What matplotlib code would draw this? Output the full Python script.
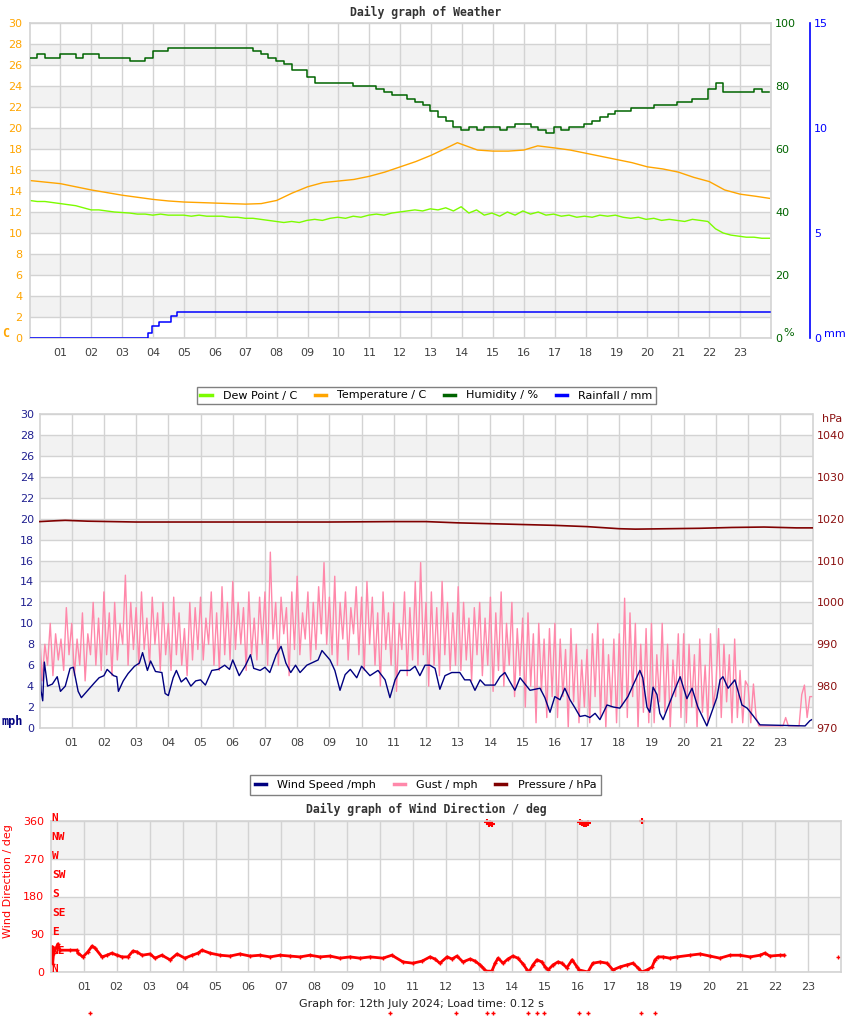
import numpy as np
import matplotlib.pyplot as plt
from matplotlib.lines import Line2D
from matplotlib.transforms import blended_transform_factory

# ---------------- data ----------------
hour_labels = ['%02d' % h for h in range(1, 24)]

# weather chart
temp_hours = [0, 0.5, 1, 1.5, 2, 2.5, 3, 3.5, 4, 4.5, 5, 5.5, 6, 6.5, 7, 7.5, 8, 8.5,
              9, 9.5, 10, 10.5, 11, 11.5, 12, 12.5, 13, 13.5, 13.85, 14.5, 15, 15.5,
              16, 16.45, 17, 17.5, 18, 18.5, 19, 19.5, 20, 20.5, 21, 21.5, 22, 22.5,
              23, 23.5, 23.95]
temp_c = [15.0, 14.85, 14.7, 14.4, 14.1, 13.85, 13.6, 13.4, 13.2, 13.05, 12.95, 12.9,
          12.85, 12.8, 12.75, 12.8, 13.1, 13.8, 14.4, 14.8, 14.95, 15.1, 15.4, 15.8,
          16.3, 16.8, 17.4, 18.1, 18.6, 17.9, 17.8, 17.8, 17.9, 18.3, 18.1, 17.9, 17.6,
          17.3, 17.0, 16.7, 16.3, 16.1, 15.8, 15.3, 14.9, 14.1, 13.7, 13.5, 13.3]

dew_c = [13.1, 13.0, 13.0, 12.9, 12.8, 12.7, 12.6, 12.4, 12.2, 12.2, 12.1, 12.0,
         11.95, 11.9, 11.8, 11.8, 11.7, 11.8, 11.7, 11.7, 11.7, 11.6, 11.7, 11.6,
         11.6, 11.6, 11.5, 11.5, 11.4, 11.4, 11.3, 11.2, 11.1, 11.0, 11.1, 11.0,
         11.2, 11.3, 11.2, 11.4, 11.5, 11.4, 11.6, 11.5, 11.7, 11.8, 11.7, 11.9,
         12.0, 12.1, 12.2, 12.1, 12.3, 12.2, 12.4, 12.1, 12.5, 11.9, 12.2, 11.7,
         11.9, 11.6, 12.0, 11.7, 12.1, 11.8, 12.0, 11.7, 11.8, 11.6, 11.7, 11.5,
         11.6, 11.5, 11.7, 11.6, 11.7, 11.5, 11.4, 11.5, 11.3, 11.4, 11.2, 11.3,
         11.2, 11.1, 11.3, 11.2, 11.1, 10.4, 10.0, 9.8, 9.7, 9.6, 9.6, 9.5, 9.5]

humidity = [89, 90, 89, 89, 90, 90, 89, 90, 90, 89, 89, 89, 89, 88, 88, 89,
            91, 91, 92, 92, 92, 92, 92, 92, 92, 92, 92, 92, 92, 91, 90, 89,
            88, 87, 85, 85, 83, 81, 81, 81, 81, 81, 80, 80, 80, 79, 78, 77,
            77, 76, 75, 74, 72, 70, 69, 67, 66, 67, 66, 67, 67, 66, 67, 68,
            68, 67, 66, 65, 67, 66, 67, 67, 68, 69, 70, 71, 72, 72, 73, 73,
            73, 74, 74, 74, 75, 75, 76, 76, 79, 81, 78, 78, 78, 78, 79, 78, 78]

rain_hours = [0, 3.85, 3.97, 4.2, 4.58, 4.79, 23.97]
rain_mm = [0, 0.25, 0.55, 0.75, 1.03, 1.22, 1.22]

# wind chart
wind_hours = [0.0, 0.05, 0.1, 0.15, 0.25, 0.4, 0.55, 0.65, 0.8, 0.95, 1.05, 1.2, 1.3,
              1.5, 1.7, 1.85, 2.0, 2.1, 2.3, 2.4, 2.45, 2.6, 2.75, 2.95, 3.1, 3.2,
              3.35, 3.45, 3.6, 3.8, 3.9, 4.0, 4.15, 4.25, 4.4, 4.55, 4.7, 4.85, 5.0,
              5.15, 5.35, 5.55, 5.75, 5.9, 6.0, 6.2, 6.4, 6.55, 6.65, 6.85, 7.0, 7.15,
              7.35, 7.5, 7.65, 7.8, 7.95, 8.09, 8.3, 8.65, 8.77, 9.02, 9.17, 9.33,
              9.49, 9.65, 9.85, 10.0, 10.26, 10.51, 10.73, 10.88, 11.04, 11.2, 11.5,
              11.66, 11.81, 11.97, 12.12, 12.28, 12.43, 12.59, 12.8, 13.05, 13.2,
              13.37, 13.52, 13.68, 13.83, 14.14, 14.3, 14.45, 14.61, 14.76, 14.92,
              15.23, 15.54, 15.69, 15.85, 16.0, 16.16, 16.31, 16.47, 16.63, 16.78,
              16.94, 17.09, 17.25, 17.4, 17.62, 17.82, 18.02, 18.27, 18.43, 18.64,
              18.73, 18.86, 18.95, 19.05, 19.17, 19.26, 19.36, 19.64, 19.89, 20.1,
              20.26, 20.44, 20.72, 21.03, 21.13, 21.22, 21.38, 21.59, 21.81, 21.97,
              22.15, 22.37, 23.77, 23.92, 23.98]
wind_mph = [7.4, 3.5, 2.6, 6.3, 4.0, 4.2, 4.9, 3.5, 4.0, 5.7, 5.8, 3.5, 2.9,
            3.6, 4.3, 4.8, 5.0, 5.6, 5.0, 4.9, 3.5, 4.5, 5.2, 5.9, 6.2, 7.2,
            5.5, 6.4, 5.4, 5.3, 3.3, 3.1, 4.8, 5.5, 4.4, 4.8, 4.0, 4.5, 4.6,
            4.1, 5.5, 5.6, 6.0, 5.6, 6.5, 5.0, 6.0, 7.0, 5.7, 5.5, 5.8, 5.3,
            7.0, 7.8, 6.2, 5.3, 6.0, 5.3, 6.0, 6.5, 7.4, 6.5, 5.5, 3.6,
            5.1, 5.6, 4.8, 5.9, 5.0, 5.5, 4.6, 2.9, 4.6, 5.5, 5.5,
            5.9, 5.0, 6.0, 6.0, 5.7, 3.7, 5.0, 5.3, 5.3, 4.6,
            4.6, 3.6, 4.6, 4.1, 4.1, 4.9, 5.3, 4.4, 3.6, 4.8,
            3.6, 3.8, 2.9, 1.5, 3.0, 2.7, 3.8, 2.7, 1.9, 1.1,
            1.2, 1.0, 1.4, 0.8, 2.2, 2.0, 1.9, 3.0, 4.1, 5.5,
            4.8, 2.0, 1.5, 3.9, 3.2, 1.4, 0.8, 3.0, 4.9, 2.8,
            3.8, 2.0, 0.2, 2.9, 4.6, 4.9, 3.8, 4.6, 2.2, 1.9,
            1.2, 0.3, 0.2, 0.7, 0.8]

# gusts, one reading every 5 minutes
gust_mph = [9.5, 4.5, 8.0, 6.0, 10.0, 5.0, 9.0, 6.5, 8.5, 5.5, 11.5, 7.0,
            10.0, 5.0, 8.5, 6.0, 11.0, 4.5, 9.0, 7.0, 12.0, 6.0, 10.5, 5.5,
            13.0, 7.0, 11.0, 5.0, 12.0, 6.5, 10.0, 8.0, 14.6, 6.0, 12.0, 7.5,
            11.5, 6.0, 13.0, 7.5, 10.5, 6.0, 12.5, 8.0, 11.0, 5.5, 12.0, 7.0,
            10.0, 5.5, 12.5, 7.0, 11.0, 6.0, 9.5, 5.0, 12.0, 6.5, 11.5, 7.5,
            12.5, 6.5, 10.5, 8.0, 13.0, 6.0, 11.0, 5.5, 13.5, 7.0, 12.0, 6.5,
            14.0, 7.5, 12.0, 8.0, 11.5, 5.5, 13.0, 7.0, 10.5, 6.5, 12.5, 8.0,
            13.0, 6.0, 16.8, 8.5, 12.0, 6.0, 12.5, 9.0, 11.5, 5.0, 13.0, 7.5,
            14.5, 7.0, 11.0, 8.5, 13.0, 6.5, 12.0, 7.5, 13.5, 9.0, 15.8, 8.0,
            12.5, 7.0, 14.5, 6.0, 12.0, 8.5, 13.0, 6.5, 11.5, 9.0, 13.5, 7.0,
            12.5, 5.5, 14.0, 8.0, 12.5, 6.0, 11.0, 4.0, 13.0, 7.5, 11.0, 6.0,
            12.0, 3.5, 10.0, 7.5, 13.0, 5.0, 11.5, 6.5, 14.0, 6.0, 15.8, 7.0,
            12.0, 4.0, 13.0, 6.0, 11.5, 5.0, 14.0, 7.0, 12.0, 5.5, 11.0, 6.0,
            13.5, 5.5, 12.0, 6.5, 10.5, 4.5, 11.5, 7.0, 12.0, 5.0, 10.5, 6.0,
            12.5, 3.5, 11.0, 5.5, 13.0, 4.0, 10.0, 6.0, 12.0, 3.0, 9.5, 5.0,
            10.5, 2.0, 11.0, 4.0, 9.0, 0.5, 10.0, 3.5, 8.5, 1.0, 9.5, 3.0,
            10.0, 1.0, 8.5, 3.0, 7.5, 0.0, 9.5, 2.5, 8.0, 0.5, 6.5, 2.0,
            7.5, 0.5, 9.0, 3.0, 10.0, 1.0, 8.5, 0.0, 7.0, 2.0, 8.5, 0.5,
            9.0, 2.0, 12.4, 1.0, 11.0, 3.0, 10.0, 0.0, 8.0, 1.5, 9.5, 0.5,
            10.0, 0.5, 7.0, 2.5, 10.0, 1.5, 8.0, 0.0, 6.5, 3.0, 9.0, 1.0,
            9.0, 0.5, 8.0, 2.0, 7.0, 0.0, 8.5, 1.5, 6.0, 0.5, 9.0, 2.0,
            4.0, 9.5, 1.0, 8.0, 2.5, 7.0, 0.5, 8.5, 1.0, 5.5, 0.5, 4.5,
            4.0, 0.5, 4.2, 1.0, 0.2, 0.2, 0.2, 0.2, 0.2, 0.2, 0.2, 0.2,
            0.2, 0.2, 1.0, 0.2, 0.2, 0.2, 0.2, 0.2, 3.2, 4.1, 1.0, 3.0,
            3.0]

pressure_hours = [0, 0.5, 0.8, 1.5, 3, 6, 9, 11, 12, 13, 14, 15, 16, 17, 18, 18.5,
                  19.5, 20.5, 21.5, 22.5, 23.5, 24]
pressure_hpa = [1019.3, 1019.5, 1019.6, 1019.4, 1019.2, 1019.2, 1019.2, 1019.3, 1019.3,
                1019.0, 1018.8, 1018.6, 1018.4, 1018.1, 1017.6, 1017.5, 1017.6, 1017.7,
                1017.9, 1018.0, 1017.8, 1017.8]

# wind direction chart
dir_hours = [0.03, 0.05, 0.08, 0.21, 0.27, 0.58, 0.79, 0.82, 0.97, 1.12, 1.25, 1.34,
             1.55, 1.7, 1.85, 2.01, 2.16, 2.34, 2.49, 2.61, 2.77, 3.01, 3.16, 3.37,
             3.62, 3.83, 4.07, 4.29, 4.47, 4.59, 4.83, 5.14, 5.44, 5.74, 6.05, 6.35,
             6.66, 6.96, 7.26, 7.57, 7.87, 8.18, 8.48, 8.78, 9.09, 9.39, 9.7, 10.09,
             10.36, 10.7, 11.0, 11.28, 11.52, 11.67, 11.82, 12.04, 12.19, 12.34, 12.52,
             12.74, 12.89, 13.04, 13.13, 13.22, 13.4, 13.5, 13.59, 13.74, 13.89, 14.04,
             14.19, 14.35, 14.47, 14.53, 14.65, 14.77, 14.92, 15.02, 15.11, 15.26, 15.41,
             15.53, 15.68, 15.84, 15.99, 16.05, 16.32, 16.47, 16.69, 16.9, 17.08, 17.29,
             17.51, 17.69, 17.84, 17.96, 18.12, 18.27, 18.36, 18.45, 18.6, 18.81, 19.03,
             19.42, 19.73, 20.03, 20.33, 20.64, 20.94, 21.25, 21.55, 21.7, 21.85, 22.16,
             22.28, 23.92]
dir_deg = [60, 20, 45, 67, 52, 52, 52, 45, 36, 48, 62, 57,
           36, 40, 45, 40, 36, 36, 50, 48, 40, 43, 33, 40,
           29, 43, 33, 40, 45, 52, 45, 40, 38, 43, 38, 40,
           36, 40, 38, 36, 40, 36, 38, 33, 36, 33, 36, 33,
           40, 24, 21, 26, 36, 31, 21, 36, 31, 38, 24,
           31, 26, 17, 10, 2, 2, 21, 33, 21, 31, 38,
           33, 19, 5, 0, 17, 29, 24, 12, 5, 17, 24,
           21, 10, 29, 12, 5, 0, 21, 24, 21, 5, 12,
           17, 21, 10, 0, 5, 12, 29, 36, 36, 33, 36,
           40, 43, 38, 33, 40, 40, 36, 40, 45, 38, 40,
           40, 36]
north_hours = [13.25, 13.3, 13.34, 13.4, 16.08, 16.14, 16.2, 16.26, 16.32, 17.96]
north_deg = [357, 354, 355, 353, 357, 355, 352, 354, 355, 360]
stray_hours = [1.19, 10.29, 12.31, 13.25, 13.43, 14.5, 14.77, 14.99, 16.06, 16.32, 17.93, 18.36]
stray_deg = [-98, -98, -98, -98, -98, -98, -98, -98, -98, -98, -98, -98]

compass = ['N', 'NE', 'E', 'SE', 'S', 'SW', 'W', 'NW', 'N']

# ---------------- style ----------------
plt.rcParams['font.family'] = ['DejaVu Sans']
W, H = 850, 1017
GRID = '#d3d3d3'
BAND = '#f2f2f2'
TXT = '#404040'
MONO = 'DejaVu Sans Mono'
DEW, TEMP, HUM, RAIN = '#7cfc00', '#ffa500', '#006400', '#0000ff'
WIND, GUST, PRES = '#000080', '#ff88aa', '#800000'

fig = plt.figure(figsize=(W / 100, H / 100), dpi=100)


def add_ax(left, top, right, bottom):
    return fig.add_axes([left / W, 1 - bottom / H, (right - left) / W, (bottom - top) / H])


def base(ax, ymax, step, band, ycolor, pad):
    ax.set_xlim(0, 24)
    ax.set_ylim(0, ymax)
    lo = band
    while lo < ymax:
        ax.axhspan(lo, lo + band, color=BAND, lw=0, zorder=0)
        lo += 2 * band
    ax.set_xticks(range(1, 24))
    ax.set_xticklabels(hour_labels)
    ax.set_yticks(range(0, ymax + 1, step))
    ax.grid(True, color=GRID, lw=1)
    ax.set_axisbelow(True)
    ax.tick_params(length=0, labelsize=8)
    ax.tick_params(axis='x', colors=TXT, pad=7)
    ax.tick_params(axis='y', colors=ycolor, pad=pad)
    for s in ax.spines.values():
        s.set_color(GRID)
        s.set_linewidth(1.2)


def twin(ax, ylim, ticks, color, pad):
    t = ax.twinx()
    t.set_ylim(*ylim)
    t.set_yticks(ticks)
    t.tick_params(length=0, labelsize=8, colors=color, pad=pad)
    for s in t.spines.values():
        s.set_visible(False)
    return t


# ---------------- weather ----------------
ax = add_ax(29.5, 23, 771, 338)
base(ax, 30, 2, 2, TEMP, 5)
q_hours = np.linspace(0, 23.95, len(dew_c))
ax.plot(q_hours, dew_c, color=DEW, lw=1)
ax.plot(temp_hours, temp_c, color=TEMP, lw=1)

ax_h = twin(ax, (0, 100), range(0, 101, 20), HUM, 3)
ax_h.plot(q_hours, humidity, color=HUM, lw=1.1, drawstyle='steps-post')

ax_r = twin(ax, (0, 15), [0, 5, 10, 15], RAIN, 3)
ax_r.spines['right'].set_visible(True)
ax_r.spines['right'].set_position(('axes', (810 - 29.5) / 741.5))
ax_r.spines['right'].set_color(RAIN)
ax_r.spines['right'].set_linewidth(1.2)
ax_r.plot(rain_hours, rain_mm, color=RAIN, lw=1.1, drawstyle='steps-post')

fig.text(426 / W, 1 - 12 / H, 'Daily graph of Weather', family=MONO, weight='bold',
         fontsize=8.3, color='#333333', ha='center', va='center')
fig.text(6 / W, 1 - 333 / H, 'C', family=MONO, weight='bold', fontsize=8.5,
         color=TEMP, ha='center', va='center')
fig.text(789 / W, 1 - 333 / H, '%', fontsize=8, color=HUM, ha='center', va='center')
fig.text(835 / W, 1 - 334 / H, 'mm', fontsize=8, color=RAIN, ha='center', va='center')

h1 = [Line2D([], [], color=c, lw=2.5) for c in (DEW, TEMP, HUM, RAIN)]
fig.legend(h1, ['Dew Point / C', 'Temperature / C', 'Humidity / %', 'Rainfall / mm'],
           loc='center', bbox_to_anchor=(426.5 / W, 1 - 395.5 / H), ncol=4,
           fontsize=8, handlelength=1.0, handletextpad=1.0, columnspacing=1.6,
           borderpad=0.35, fancybox=False, edgecolor='#808080', framealpha=1)

# ---------------- wind ----------------
axm = add_ax(39.5, 414, 812.5, 728)
base(axm, 30, 2, 2, '#202090', 4)
g_hours = np.linspace(0, 24, len(gust_mph))
axm.plot(g_hours, gust_mph, color=GUST, lw=1)
axm.plot(wind_hours, wind_mph, color=WIND, lw=1)

ax_p = twin(axm, (970, 1045), range(970, 1041, 10), '#8b1010', 3)
ax_p.plot(pressure_hours, pressure_hpa, color=PRES, lw=1.2)

fig.text(12 / W, 1 - 722 / H, 'mph', family=MONO, weight='bold', fontsize=8.5,
         color=WIND, ha='center', va='center')
fig.text(832 / W, 1 - 419 / H, 'hPa', fontsize=8, color='#8b1010', ha='center', va='center')

h2 = [Line2D([], [], color=c, lw=2.5) for c in (WIND, GUST, PRES)]
fig.legend(h2, ['Wind Speed /mph', 'Gust / mph', 'Pressure / hPa'],
           loc='center', bbox_to_anchor=(425.5 / W, 1 - 785 / H), ncol=3,
           fontsize=8, handlelength=1.0, handletextpad=1.0, columnspacing=1.6,
           borderpad=0.45, fancybox=False, edgecolor='#808080', framealpha=1)

# ---------------- wind direction ----------------
axd = add_ax(51, 821, 840.6, 972)
base(axd, 360, 90, 90, '#ff0000', 5)
dh = np.array(dir_hours, float)
dd = np.array(dir_deg, float)
gaps = np.where(np.diff(dh) > 1)[0] + 1
dh = np.insert(dh, gaps, np.nan)
dd = np.insert(dd, gaps, np.nan)
axd.plot(dh, dd, color='red', lw=2, marker='+', ms=3, mew=1)
axd.plot(north_hours, north_deg, '+', color='red', ms=4, mew=1.5, clip_on=False)
axd.plot(stray_hours, stray_deg, '+', color='red', ms=3, mew=1, clip_on=False)

tr = blended_transform_factory(axd.transAxes, axd.transData)
for i, name in enumerate(compass):
    axd.text(0.001, i * 45 + 6, name, transform=tr, family=MONO, weight='bold',
             fontsize=8, color='red', ha='left', va='center', clip_on=False)

fig.text(426 / W, 1 - 809 / H, 'Daily graph of Wind Direction / deg', family=MONO,
         weight='bold', fontsize=8.3, color='#333333', ha='center', va='center')
fig.text(8 / W, 1 - 881 / H, 'Wind Direction / deg', rotation=90, fontsize=8,
         color='red', ha='center', va='center')
fig.text(421 / W, 1 - 1004 / H, 'Graph for: 12th July 2024; Load time: 0.12 s',
         fontsize=8, color='#202020', ha='center', va='center')

fig.savefig('out.png', dpi=100)
